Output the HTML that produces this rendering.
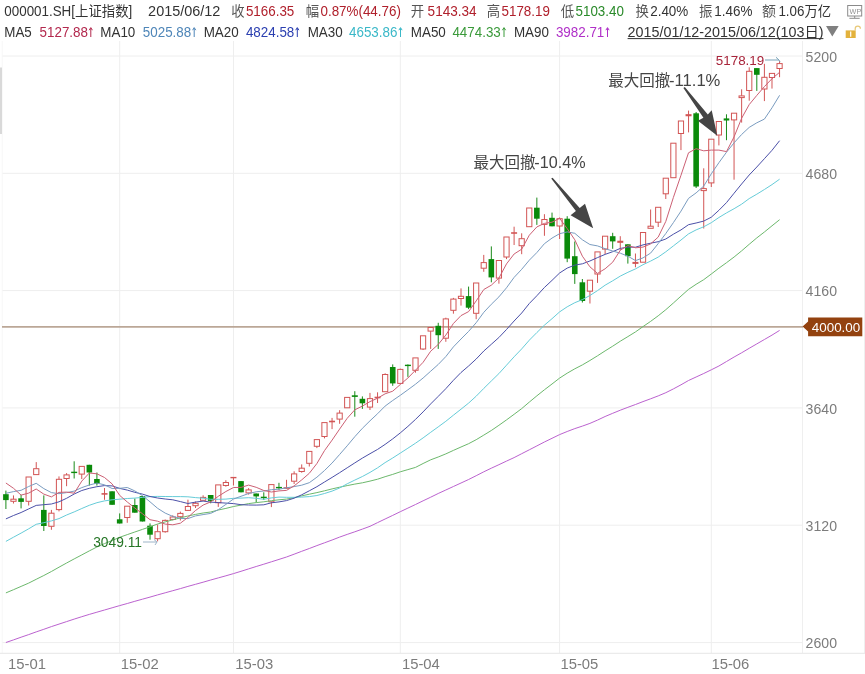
<!DOCTYPE html><html><head><meta charset="utf-8"><title>000001.SH</title><style>
html,body{margin:0;padding:0;background:#fff;}body{width:865px;height:674px;overflow:hidden;position:relative;}
svg{position:absolute;left:0;top:0;display:block;}
text{font-family:"Liberation Sans","Noto Sans CJK SC",sans-serif;}
</style></head><body>
<svg width="865" height="674" viewBox="0 0 865 674">
<g stroke="#eeeeee" stroke-width="1" fill="none">
<line x1="2" y1="56" x2="802" y2="56"/>
<line x1="2" y1="173.3" x2="802" y2="173.3"/>
<line x1="2" y1="290.6" x2="802" y2="290.6"/>
<line x1="2" y1="407.9" x2="802" y2="407.9"/>
<line x1="2" y1="525.2" x2="802" y2="525.2"/>
<line x1="2" y1="642.6" x2="802" y2="642.6"/>
<line x1="119.7" y1="41" x2="119.7" y2="653"/>
<line x1="233.5" y1="41" x2="233.5" y2="653"/>
<line x1="400.3" y1="41" x2="400.3" y2="653"/>
<line x1="559.6" y1="41" x2="559.6" y2="653"/>
<line x1="711.3" y1="41" x2="711.3" y2="653"/>
</g>
<g stroke="#e6e6e6" stroke-width="1" fill="none">
<line x1="2.2" y1="41" x2="2.2" y2="653" stroke="#f7f7f7"/>
<line x1="802.5" y1="41" x2="802.5" y2="653" stroke="#efefef"/>
<line x1="864.5" y1="0" x2="864.5" y2="653" stroke="#efefef"/>
<line x1="0" y1="653.3" x2="865" y2="653.3"/>
</g>
<rect x="0" y="67.5" width="2" height="66.5" fill="#d9d9d9"/>
<line x1="2" y1="326.8" x2="803" y2="326.8" stroke="#bba797" stroke-width="1.8"/>
<g stroke-width="1">
<line x1="5.90" y1="490.6" x2="5.90" y2="509.0" stroke="#1a8a1a"/>
<rect x="3.10" y="494.2" width="5.6" height="5.9" fill="#0a8a0a"/>
<line x1="13.48" y1="495.4" x2="13.48" y2="499.2" stroke="#d25555"/>
<line x1="13.48" y1="501.3" x2="13.48" y2="503.5" stroke="#d25555"/>
<rect x="10.88" y="499.2" width="5.2" height="2.1" fill="#fff" fill-opacity="0" stroke="#d25555"/>
<line x1="21.07" y1="494.8" x2="21.07" y2="508.4" stroke="#1a8a1a"/>
<rect x="18.27" y="498.3" width="5.6" height="3.6" fill="#0a8a0a"/>
<line x1="28.66" y1="501.3" x2="28.66" y2="505.5" stroke="#d25555"/>
<rect x="26.05" y="477.0" width="5.2" height="24.3" fill="#fff" fill-opacity="0" stroke="#d25555"/>
<line x1="36.24" y1="462.1" x2="36.24" y2="468.7" stroke="#d25555"/>
<rect x="33.64" y="468.7" width="5.2" height="5.9" fill="#fff" fill-opacity="0" stroke="#d25555"/>
<line x1="43.82" y1="495.4" x2="43.82" y2="531.0" stroke="#1a8a1a"/>
<rect x="41.02" y="509.9" width="5.6" height="16.1" fill="#0a8a0a"/>
<line x1="51.41" y1="509.9" x2="51.41" y2="513.2" stroke="#d25555"/>
<line x1="51.41" y1="526.3" x2="51.41" y2="529.8" stroke="#d25555"/>
<rect x="48.81" y="513.2" width="5.2" height="13.1" fill="#fff" fill-opacity="0" stroke="#d25555"/>
<line x1="58.99" y1="476.4" x2="58.99" y2="479.3" stroke="#d25555"/>
<line x1="58.99" y1="509.6" x2="58.99" y2="511.4" stroke="#d25555"/>
<rect x="56.39" y="479.3" width="5.2" height="30.3" fill="#fff" fill-opacity="0" stroke="#d25555"/>
<line x1="66.58" y1="473.1" x2="66.58" y2="474.9" stroke="#d25555"/>
<line x1="66.58" y1="478.5" x2="66.58" y2="486.2" stroke="#d25555"/>
<rect x="63.98" y="474.9" width="5.2" height="3.6" fill="#fff" fill-opacity="0" stroke="#d25555"/>
<line x1="74.17" y1="461.3" x2="74.17" y2="478.5" stroke="#1a8a1a"/>
<line x1="71.17" y1="472.4" x2="77.17" y2="472.4" stroke="#0a8a0a" stroke-width="1.4"/>
<line x1="81.75" y1="474.1" x2="81.75" y2="479.0" stroke="#d25555"/>
<rect x="79.15" y="466.4" width="5.2" height="7.7" fill="#fff" fill-opacity="0" stroke="#d25555"/>
<line x1="89.34" y1="464.8" x2="89.34" y2="485.6" stroke="#1a8a1a"/>
<rect x="86.54" y="464.8" width="5.6" height="7.7" fill="#0a8a0a"/>
<line x1="96.92" y1="472.5" x2="96.92" y2="485.6" stroke="#1a8a1a"/>
<rect x="94.12" y="479.0" width="5.6" height="4.8" fill="#0a8a0a"/>
<line x1="104.51" y1="488.0" x2="104.51" y2="499.8" stroke="#d25555"/>
<line x1="101.51" y1="493.9" x2="107.51" y2="493.9" stroke="#d25555" stroke-width="1.6"/>
<line x1="112.09" y1="491.3" x2="112.09" y2="504.8" stroke="#1a8a1a"/>
<rect x="109.29" y="491.3" width="5.6" height="13.5" fill="#0a8a0a"/>
<line x1="119.68" y1="513.4" x2="119.68" y2="523.5" stroke="#1a8a1a"/>
<rect x="116.88" y="519.3" width="5.6" height="4.2" fill="#0a8a0a"/>
<line x1="127.26" y1="517.5" x2="127.26" y2="522.8" stroke="#d25555"/>
<rect x="124.66" y="506.2" width="5.2" height="11.3" fill="#fff" fill-opacity="0" stroke="#d25555"/>
<line x1="134.84" y1="498.5" x2="134.84" y2="512.7" stroke="#1a8a1a"/>
<rect x="132.04" y="505.0" width="5.6" height="7.7" fill="#0a8a0a"/>
<line x1="142.43" y1="496.1" x2="142.43" y2="521.5" stroke="#1a8a1a"/>
<rect x="139.63" y="496.1" width="5.6" height="25.4" fill="#0a8a0a"/>
<line x1="150.02" y1="523.4" x2="150.02" y2="539.7" stroke="#1a8a1a"/>
<rect x="147.22" y="525.7" width="5.6" height="9.0" fill="#0a8a0a"/>
<line x1="157.60" y1="524.4" x2="157.60" y2="531.7" stroke="#d25555"/>
<line x1="157.60" y1="538.7" x2="157.60" y2="541.4" stroke="#d25555"/>
<rect x="155.00" y="531.7" width="5.2" height="7.0" fill="#fff" fill-opacity="0" stroke="#d25555"/>
<line x1="165.19" y1="519.5" x2="165.19" y2="520.4" stroke="#d25555"/>
<line x1="165.19" y1="531.7" x2="165.19" y2="532.7" stroke="#d25555"/>
<rect x="162.59" y="520.4" width="5.2" height="11.3" fill="#fff" fill-opacity="0" stroke="#d25555"/>
<line x1="172.77" y1="515.3" x2="172.77" y2="517.0" stroke="#d25555"/>
<line x1="172.77" y1="519.4" x2="172.77" y2="520.4" stroke="#d25555"/>
<rect x="170.17" y="517.0" width="5.2" height="2.4" fill="#fff" fill-opacity="0" stroke="#d25555"/>
<line x1="180.36" y1="511.6" x2="180.36" y2="513.4" stroke="#d25555"/>
<line x1="180.36" y1="516.7" x2="180.36" y2="520.5" stroke="#d25555"/>
<rect x="177.76" y="513.4" width="5.2" height="3.3" fill="#fff" fill-opacity="0" stroke="#d25555"/>
<line x1="187.94" y1="499.7" x2="187.94" y2="506.5" stroke="#d25555"/>
<line x1="187.94" y1="510.4" x2="187.94" y2="510.8" stroke="#d25555"/>
<rect x="185.34" y="506.5" width="5.2" height="3.9" fill="#fff" fill-opacity="0" stroke="#d25555"/>
<line x1="195.53" y1="501.5" x2="195.53" y2="503.3" stroke="#d25555"/>
<line x1="195.53" y1="505.7" x2="195.53" y2="508.0" stroke="#d25555"/>
<rect x="192.93" y="503.3" width="5.2" height="2.4" fill="#fff" fill-opacity="0" stroke="#d25555"/>
<line x1="203.11" y1="495.3" x2="203.11" y2="497.4" stroke="#d25555"/>
<rect x="200.51" y="497.4" width="5.2" height="2.9" fill="#fff" fill-opacity="0" stroke="#d25555"/>
<line x1="210.69" y1="495.0" x2="210.69" y2="503.3" stroke="#1a8a1a"/>
<rect x="207.89" y="495.0" width="5.6" height="5.9" fill="#0a8a0a"/>
<line x1="218.28" y1="502.7" x2="218.28" y2="506.9" stroke="#d25555"/>
<rect x="215.68" y="484.9" width="5.2" height="17.8" fill="#fff" fill-opacity="0" stroke="#d25555"/>
<line x1="225.87" y1="480.2" x2="225.87" y2="482.5" stroke="#d25555"/>
<line x1="225.87" y1="485.5" x2="225.87" y2="486.7" stroke="#d25555"/>
<rect x="223.27" y="482.5" width="5.2" height="3.0" fill="#fff" fill-opacity="0" stroke="#d25555"/>
<line x1="233.45" y1="477.2" x2="233.45" y2="485.5" stroke="#d25555"/>
<line x1="230.45" y1="477.6" x2="236.45" y2="477.6" stroke="#d25555" stroke-width="1.4"/>
<line x1="241.03" y1="481.0" x2="241.03" y2="492.3" stroke="#1a8a1a"/>
<rect x="238.23" y="481.1" width="5.6" height="11.2" fill="#0a8a0a"/>
<line x1="248.62" y1="488.1" x2="248.62" y2="489.9" stroke="#d25555"/>
<line x1="248.62" y1="492.9" x2="248.62" y2="494.6" stroke="#d25555"/>
<rect x="246.02" y="489.9" width="5.2" height="3.0" fill="#fff" fill-opacity="0" stroke="#d25555"/>
<line x1="256.20" y1="493.5" x2="256.20" y2="502.4" stroke="#1a8a1a"/>
<rect x="253.40" y="493.5" width="5.6" height="2.9" fill="#0a8a0a"/>
<line x1="263.79" y1="492.3" x2="263.79" y2="500.0" stroke="#1a8a1a"/>
<line x1="260.79" y1="497.4" x2="266.79" y2="497.4" stroke="#0a8a0a" stroke-width="1.4"/>
<line x1="271.38" y1="501.8" x2="271.38" y2="507.1" stroke="#d25555"/>
<rect x="268.77" y="484.6" width="5.2" height="17.2" fill="#fff" fill-opacity="0" stroke="#d25555"/>
<line x1="278.96" y1="482.8" x2="278.96" y2="489.9" stroke="#1a8a1a"/>
<line x1="275.96" y1="487.6" x2="281.96" y2="487.6" stroke="#0a8a0a" stroke-width="1.4"/>
<line x1="286.54" y1="479.8" x2="286.54" y2="488.5" stroke="#d25555"/>
<line x1="283.54" y1="488.0" x2="289.54" y2="488.0" stroke="#d25555" stroke-width="1.6"/>
<line x1="294.13" y1="471.3" x2="294.13" y2="473.9" stroke="#d25555"/>
<line x1="294.13" y1="481.2" x2="294.13" y2="484.0" stroke="#d25555"/>
<rect x="291.53" y="473.9" width="5.2" height="7.3" fill="#fff" fill-opacity="0" stroke="#d25555"/>
<line x1="301.71" y1="464.4" x2="301.71" y2="468.2" stroke="#d25555"/>
<line x1="301.71" y1="471.5" x2="301.71" y2="472.7" stroke="#d25555"/>
<rect x="299.11" y="468.2" width="5.2" height="3.3" fill="#fff" fill-opacity="0" stroke="#d25555"/>
<line x1="309.30" y1="463.3" x2="309.30" y2="466.5" stroke="#d25555"/>
<rect x="306.70" y="451.4" width="5.2" height="11.9" fill="#fff" fill-opacity="0" stroke="#d25555"/>
<line x1="316.88" y1="446.3" x2="316.88" y2="448.1" stroke="#d25555"/>
<rect x="314.28" y="439.6" width="5.2" height="6.7" fill="#fff" fill-opacity="0" stroke="#d25555"/>
<line x1="324.47" y1="436.5" x2="324.47" y2="438.4" stroke="#d25555"/>
<rect x="321.87" y="422.6" width="5.2" height="13.9" fill="#fff" fill-opacity="0" stroke="#d25555"/>
<line x1="332.05" y1="417.9" x2="332.05" y2="429.1" stroke="#d25555"/>
<line x1="329.05" y1="421.5" x2="335.05" y2="421.5" stroke="#d25555" stroke-width="1.6"/>
<line x1="339.64" y1="410.2" x2="339.64" y2="413.1" stroke="#d25555"/>
<line x1="339.64" y1="419.1" x2="339.64" y2="423.8" stroke="#d25555"/>
<rect x="337.04" y="413.1" width="5.2" height="6.0" fill="#fff" fill-opacity="0" stroke="#d25555"/>
<rect x="344.62" y="397.4" width="5.2" height="10.4" fill="#fff" fill-opacity="0" stroke="#d25555"/>
<line x1="354.81" y1="391.2" x2="354.81" y2="416.7" stroke="#1a8a1a"/>
<line x1="351.81" y1="396.1" x2="357.81" y2="396.1" stroke="#0a8a0a" stroke-width="1.6"/>
<line x1="362.39" y1="396.4" x2="362.39" y2="408.9" stroke="#1a8a1a"/>
<rect x="359.59" y="398.8" width="5.6" height="4.5" fill="#0a8a0a"/>
<line x1="369.98" y1="392.9" x2="369.98" y2="398.6" stroke="#d25555"/>
<line x1="369.98" y1="407.1" x2="369.98" y2="410.0" stroke="#d25555"/>
<rect x="367.38" y="398.6" width="5.2" height="8.5" fill="#fff" fill-opacity="0" stroke="#d25555"/>
<line x1="377.56" y1="392.3" x2="377.56" y2="403.0" stroke="#d25555"/>
<line x1="374.56" y1="397.5" x2="380.56" y2="397.5" stroke="#d25555" stroke-width="1.6"/>
<line x1="385.15" y1="373.3" x2="385.15" y2="374.5" stroke="#d25555"/>
<rect x="382.55" y="374.5" width="5.2" height="17.2" fill="#fff" fill-opacity="0" stroke="#d25555"/>
<line x1="392.73" y1="364.4" x2="392.73" y2="385.8" stroke="#1a8a1a"/>
<rect x="389.93" y="367.0" width="5.6" height="16.4" fill="#0a8a0a"/>
<line x1="400.32" y1="368.6" x2="400.32" y2="369.4" stroke="#d25555"/>
<rect x="397.72" y="369.4" width="5.2" height="14.0" fill="#fff" fill-opacity="0" stroke="#d25555"/>
<line x1="407.90" y1="364.4" x2="407.90" y2="376.9" stroke="#1a8a1a"/>
<line x1="404.90" y1="365.4" x2="410.90" y2="365.4" stroke="#0a8a0a" stroke-width="1.4"/>
<line x1="415.49" y1="370.3" x2="415.49" y2="372.7" stroke="#d25555"/>
<rect x="412.89" y="357.9" width="5.2" height="12.4" fill="#fff" fill-opacity="0" stroke="#d25555"/>
<line x1="423.07" y1="349.0" x2="423.07" y2="350.0" stroke="#d25555"/>
<rect x="420.47" y="335.8" width="5.2" height="13.2" fill="#fff" fill-opacity="0" stroke="#d25555"/>
<line x1="430.66" y1="331.1" x2="430.66" y2="348.9" stroke="#d25555"/>
<rect x="428.06" y="327.5" width="5.2" height="3.6" fill="#fff" fill-opacity="0" stroke="#d25555"/>
<line x1="438.24" y1="322.8" x2="438.24" y2="348.9" stroke="#1a8a1a"/>
<rect x="435.44" y="325.8" width="5.6" height="9.4" fill="#0a8a0a"/>
<line x1="445.83" y1="317.7" x2="445.83" y2="318.9" stroke="#d25555"/>
<line x1="445.83" y1="338.2" x2="445.83" y2="341.8" stroke="#d25555"/>
<rect x="443.23" y="318.9" width="5.2" height="19.3" fill="#fff" fill-opacity="0" stroke="#d25555"/>
<line x1="453.41" y1="297.9" x2="453.41" y2="299.1" stroke="#d25555"/>
<line x1="453.41" y1="310.3" x2="453.41" y2="313.7" stroke="#d25555"/>
<rect x="450.81" y="299.1" width="5.2" height="11.2" fill="#fff" fill-opacity="0" stroke="#d25555"/>
<line x1="461.00" y1="288.4" x2="461.00" y2="296.3" stroke="#d25555"/>
<line x1="461.00" y1="298.5" x2="461.00" y2="305.6" stroke="#d25555"/>
<rect x="458.40" y="296.3" width="5.2" height="2.2" fill="#fff" fill-opacity="0" stroke="#d25555"/>
<line x1="468.58" y1="286.6" x2="468.58" y2="309.1" stroke="#1a8a1a"/>
<rect x="465.78" y="296.1" width="5.6" height="11.6" fill="#0a8a0a"/>
<line x1="476.17" y1="313.3" x2="476.17" y2="319.2" stroke="#d25555"/>
<rect x="473.57" y="283.0" width="5.2" height="30.3" fill="#fff" fill-opacity="0" stroke="#d25555"/>
<line x1="483.75" y1="254.9" x2="483.75" y2="262.6" stroke="#d25555"/>
<line x1="483.75" y1="268.2" x2="483.75" y2="271.8" stroke="#d25555"/>
<rect x="481.15" y="262.6" width="5.2" height="5.6" fill="#fff" fill-opacity="0" stroke="#d25555"/>
<line x1="491.34" y1="246.4" x2="491.34" y2="282.3" stroke="#1a8a1a"/>
<rect x="488.54" y="259.1" width="5.6" height="18.3" fill="#0a8a0a"/>
<line x1="498.92" y1="278.1" x2="498.92" y2="283.7" stroke="#d25555"/>
<rect x="496.32" y="260.5" width="5.2" height="17.6" fill="#fff" fill-opacity="0" stroke="#d25555"/>
<line x1="506.51" y1="257.0" x2="506.51" y2="259.1" stroke="#d25555"/>
<rect x="503.91" y="237.0" width="5.2" height="20.0" fill="#fff" fill-opacity="0" stroke="#d25555"/>
<line x1="514.10" y1="226.7" x2="514.10" y2="245.0" stroke="#d25555"/>
<line x1="511.10" y1="233.0" x2="517.10" y2="233.0" stroke="#d25555" stroke-width="1.6"/>
<line x1="521.68" y1="233.3" x2="521.68" y2="238.7" stroke="#d25555"/>
<line x1="521.68" y1="245.7" x2="521.68" y2="254.2" stroke="#d25555"/>
<rect x="519.08" y="238.7" width="5.2" height="7.0" fill="#fff" fill-opacity="0" stroke="#d25555"/>
<line x1="529.26" y1="226.7" x2="529.26" y2="227.0" stroke="#d25555"/>
<rect x="526.66" y="208.0" width="5.2" height="18.7" fill="#fff" fill-opacity="0" stroke="#d25555"/>
<line x1="536.85" y1="197.6" x2="536.85" y2="224.9" stroke="#1a8a1a"/>
<rect x="534.05" y="207.7" width="5.6" height="11.0" fill="#0a8a0a"/>
<line x1="544.43" y1="214.2" x2="544.43" y2="219.5" stroke="#d25555"/>
<line x1="544.43" y1="224.4" x2="544.43" y2="235.8" stroke="#d25555"/>
<rect x="541.83" y="219.5" width="5.2" height="4.9" fill="#fff" fill-opacity="0" stroke="#d25555"/>
<line x1="552.02" y1="212.6" x2="552.02" y2="226.3" stroke="#1a8a1a"/>
<rect x="549.22" y="217.8" width="5.6" height="8.5" fill="#0a8a0a"/>
<line x1="559.61" y1="217.5" x2="559.61" y2="218.7" stroke="#d25555"/>
<line x1="559.61" y1="226.0" x2="559.61" y2="239.0" stroke="#d25555"/>
<rect x="557.00" y="218.7" width="5.2" height="7.3" fill="#fff" fill-opacity="0" stroke="#d25555"/>
<line x1="567.19" y1="216.2" x2="567.19" y2="262.2" stroke="#1a8a1a"/>
<rect x="564.39" y="218.7" width="5.6" height="39.9" fill="#0a8a0a"/>
<line x1="574.77" y1="241.5" x2="574.77" y2="283.9" stroke="#1a8a1a"/>
<rect x="571.98" y="256.2" width="5.6" height="17.9" fill="#0a8a0a"/>
<line x1="582.36" y1="279.0" x2="582.36" y2="302.5" stroke="#1a8a1a"/>
<rect x="579.56" y="282.3" width="5.6" height="18.7" fill="#0a8a0a"/>
<line x1="589.94" y1="291.2" x2="589.94" y2="303.5" stroke="#d25555"/>
<rect x="587.34" y="280.2" width="5.2" height="11.0" fill="#fff" fill-opacity="0" stroke="#d25555"/>
<line x1="597.53" y1="274.0" x2="597.53" y2="282.9" stroke="#d25555"/>
<rect x="594.93" y="251.9" width="5.2" height="22.1" fill="#fff" fill-opacity="0" stroke="#d25555"/>
<line x1="605.12" y1="249.1" x2="605.12" y2="254.0" stroke="#d25555"/>
<rect x="602.51" y="236.2" width="5.2" height="12.9" fill="#fff" fill-opacity="0" stroke="#d25555"/>
<line x1="612.70" y1="232.8" x2="612.70" y2="248.8" stroke="#1a8a1a"/>
<rect x="609.90" y="236.2" width="5.6" height="5.2" fill="#0a8a0a"/>
<line x1="620.28" y1="236.2" x2="620.28" y2="250.3" stroke="#d25555"/>
<line x1="617.28" y1="241.8" x2="623.28" y2="241.8" stroke="#d25555" stroke-width="2.1"/>
<line x1="627.87" y1="244.3" x2="627.87" y2="263.6" stroke="#1a8a1a"/>
<rect x="625.07" y="244.3" width="5.6" height="11.9" fill="#0a8a0a"/>
<line x1="635.45" y1="253.5" x2="635.45" y2="267.3" stroke="#d25555"/>
<line x1="632.45" y1="262.9" x2="638.45" y2="262.9" stroke="#d25555" stroke-width="2.0"/>
<rect x="640.44" y="232.5" width="5.2" height="29.7" fill="#fff" fill-opacity="0" stroke="#d25555"/>
<line x1="650.62" y1="209.5" x2="650.62" y2="226.2" stroke="#d25555"/>
<rect x="648.02" y="226.2" width="5.2" height="2.1" fill="#fff" fill-opacity="0" stroke="#d25555"/>
<line x1="658.21" y1="222.2" x2="658.21" y2="227.0" stroke="#d25555"/>
<rect x="655.61" y="207.3" width="5.2" height="14.9" fill="#fff" fill-opacity="0" stroke="#d25555"/>
<line x1="665.79" y1="193.8" x2="665.79" y2="199.0" stroke="#d25555"/>
<rect x="663.19" y="178.2" width="5.2" height="15.6" fill="#fff" fill-opacity="0" stroke="#d25555"/>
<rect x="670.78" y="143.2" width="5.2" height="34.5" fill="#fff" fill-opacity="0" stroke="#d25555"/>
<line x1="680.96" y1="133.5" x2="680.96" y2="150.1" stroke="#d25555"/>
<rect x="678.36" y="121.0" width="5.2" height="12.5" fill="#fff" fill-opacity="0" stroke="#d25555"/>
<line x1="688.55" y1="110.6" x2="688.55" y2="132.4" stroke="#d25555"/>
<line x1="685.55" y1="115.2" x2="691.55" y2="115.2" stroke="#d25555" stroke-width="2.1"/>
<line x1="696.13" y1="112.0" x2="696.13" y2="188.0" stroke="#1a8a1a"/>
<rect x="693.34" y="113.3" width="5.6" height="73.2" fill="#0a8a0a"/>
<line x1="703.72" y1="168.3" x2="703.72" y2="188.6" stroke="#d25555"/>
<line x1="703.72" y1="190.6" x2="703.72" y2="228.5" stroke="#d25555"/>
<rect x="701.12" y="188.6" width="5.2" height="2.0" fill="#fff" fill-opacity="0" stroke="#d25555"/>
<line x1="711.30" y1="182.9" x2="711.30" y2="187.0" stroke="#d25555"/>
<rect x="708.70" y="139.2" width="5.2" height="43.7" fill="#fff" fill-opacity="0" stroke="#d25555"/>
<line x1="718.89" y1="135.0" x2="718.89" y2="145.4" stroke="#d25555"/>
<rect x="716.29" y="121.5" width="5.2" height="13.5" fill="#fff" fill-opacity="0" stroke="#d25555"/>
<line x1="726.48" y1="114.3" x2="726.48" y2="140.2" stroke="#1a8a1a"/>
<rect x="723.68" y="118.4" width="5.6" height="2.1" fill="#0a8a0a"/>
<line x1="734.06" y1="119.9" x2="734.06" y2="179.7" stroke="#d25555"/>
<rect x="731.46" y="113.2" width="5.2" height="6.7" fill="#fff" fill-opacity="0" stroke="#d25555"/>
<line x1="741.64" y1="89.3" x2="741.64" y2="95.9" stroke="#d25555"/>
<line x1="741.64" y1="97.6" x2="741.64" y2="122.6" stroke="#d25555"/>
<rect x="739.04" y="95.9" width="5.2" height="1.7" fill="#fff" fill-opacity="0" stroke="#d25555"/>
<line x1="749.23" y1="67.3" x2="749.23" y2="71.3" stroke="#d25555"/>
<line x1="749.23" y1="90.5" x2="749.23" y2="100.7" stroke="#d25555"/>
<rect x="746.63" y="71.3" width="5.2" height="19.2" fill="#fff" fill-opacity="0" stroke="#d25555"/>
<line x1="756.81" y1="68.1" x2="756.81" y2="90.9" stroke="#1a8a1a"/>
<rect x="754.01" y="68.1" width="5.6" height="6.7" fill="#0a8a0a"/>
<line x1="764.40" y1="63.8" x2="764.40" y2="77.3" stroke="#d25555"/>
<line x1="764.40" y1="89.0" x2="764.40" y2="101.1" stroke="#d25555"/>
<rect x="761.80" y="77.3" width="5.2" height="11.7" fill="#fff" fill-opacity="0" stroke="#d25555"/>
<line x1="771.99" y1="77.5" x2="771.99" y2="88.6" stroke="#d25555"/>
<rect x="769.38" y="73.4" width="5.2" height="4.1" fill="#fff" fill-opacity="0" stroke="#d25555"/>
<line x1="779.57" y1="61.0" x2="779.57" y2="63.6" stroke="#d25555"/>
<line x1="779.57" y1="68.5" x2="779.57" y2="77.2" stroke="#d25555"/>
<rect x="776.97" y="63.6" width="5.2" height="4.9" fill="#fff" fill-opacity="0" stroke="#d25555"/>
</g>
<polyline points="5.9,642.5 13.5,639.9 21.1,637.2 28.7,634.6 36.2,631.9 43.8,629.3 51.4,626.6 59.0,624.1 66.6,621.6 74.2,619.1 81.8,616.7 89.3,614.4 96.9,612.2 104.5,610.0 112.1,607.8 119.7,605.6 127.3,603.5 134.8,601.3 142.4,599.2 150.0,597.1 157.6,594.9 165.2,592.8 172.8,590.7 180.4,588.6 187.9,586.4 195.5,584.3 203.1,582.2 210.7,580.0 218.3,577.9 225.9,575.8 233.5,573.6 241.0,571.3 248.6,568.9 256.2,566.5 263.8,564.2 271.4,561.8 279.0,559.4 286.5,557.0 294.1,554.2 301.7,551.3 309.3,548.5 316.9,545.6 324.5,542.8 332.1,540.0 339.6,537.1 347.2,534.4 354.8,531.8 362.4,529.1 370.0,526.3 377.6,522.6 385.1,519.0 392.7,515.4 400.3,511.7 407.9,508.1 415.5,504.5 423.1,500.8 430.7,497.2 438.2,493.5 445.8,490.0 453.4,486.5 461.0,483.0 468.6,479.5 476.2,475.7 483.8,471.8 491.3,468.2 498.9,464.7 506.5,461.1 514.1,457.6 521.7,453.7 529.3,449.8 536.9,445.9 544.4,442.0 552.0,438.3 559.6,434.6 567.2,431.5 574.8,428.6 582.4,426.1 589.9,423.4 597.5,420.1 605.1,416.5 612.7,413.3 620.3,410.2 627.9,407.3 635.5,404.5 643.0,401.6 650.6,398.8 658.2,395.9 665.8,392.7 673.4,388.9 681.0,384.8 688.5,380.5 696.1,377.0 703.7,373.5 711.3,369.8 718.9,366.0 726.5,361.5 734.1,357.0 741.6,352.8 749.2,348.3 756.8,343.9 764.4,339.5 772.0,335.1 779.6,330.4" fill="none" stroke="#bb62cf" stroke-width="1" stroke-linejoin="round"/>
<polyline points="5.9,592.9 13.5,589.7 21.1,586.4 28.7,583.1 36.2,579.3 43.8,575.5 51.4,571.5 59.0,567.2 66.6,563.0 74.2,558.9 81.8,554.9 89.3,550.9 96.9,547.0 104.5,543.6 112.1,540.5 119.7,537.3 127.3,534.6 134.8,532.0 142.4,529.4 150.0,526.8 157.6,524.0 165.2,521.9 172.8,519.8 180.4,517.9 187.9,516.0 195.5,514.4 203.1,513.0 210.7,512.0 218.3,510.0 225.9,508.4 233.5,506.5 241.0,505.1 248.6,503.6 256.2,502.6 263.8,501.8 271.4,500.7 279.0,499.8 286.5,499.1 294.1,497.7 301.7,495.9 309.3,494.2 316.9,492.6 324.5,490.8 332.1,488.9 339.6,487.2 347.2,485.6 354.8,484.1 362.4,482.8 370.0,481.1 377.6,479.2 385.1,476.7 392.7,474.4 400.3,471.8 407.9,469.6 415.5,467.4 423.1,463.5 430.7,459.8 438.2,457.0 445.8,453.9 453.4,450.4 461.0,447.0 468.6,443.7 476.2,439.7 483.8,435.1 491.3,430.5 498.9,425.3 506.5,419.9 514.1,414.3 521.7,408.6 529.3,402.1 536.9,395.8 544.4,389.8 552.0,384.0 559.6,378.1 567.2,373.2 574.8,368.8 582.4,364.9 589.9,360.5 597.5,355.8 605.1,350.9 612.7,346.2 620.3,341.2 627.9,336.6 635.5,331.9 643.0,326.6 650.6,321.4 658.2,315.8 665.8,309.7 673.4,303.0 681.0,296.1 688.5,289.4 696.1,284.3 703.7,279.7 711.3,274.0 718.9,268.2 726.5,262.7 734.1,257.0 741.6,250.9 749.2,244.3 756.8,237.9 764.4,232.0 772.0,225.8 779.6,219.7" fill="none" stroke="#6cb86c" stroke-width="1" stroke-linejoin="round"/>
<polyline points="5.9,541.4 13.5,537.2 21.1,533.1 28.7,528.8 36.2,524.3 43.8,522.7 51.4,520.9 59.0,518.6 66.6,515.0 74.2,511.9 81.8,508.5 89.3,505.3 96.9,502.7 104.5,500.9 112.1,499.8 119.7,499.2 127.3,498.5 134.8,498.1 142.4,497.4 150.0,496.6 157.6,496.4 165.2,496.5 172.8,496.6 180.4,496.6 187.9,496.8 195.5,497.6 203.1,498.2 210.7,499.3 218.3,499.3 225.9,499.1 233.5,498.3 241.0,498.1 248.6,497.7 256.2,498.3 263.8,499.3 271.4,497.9 279.0,497.1 286.5,497.3 294.1,497.3 301.7,497.1 309.3,496.6 316.9,495.5 324.5,493.5 332.1,491.1 339.6,488.0 347.2,483.8 354.8,480.1 362.4,476.5 370.0,472.4 377.6,467.8 385.1,462.6 392.7,458.0 400.3,453.1 407.9,448.2 415.5,443.2 423.1,437.9 430.7,432.3 438.2,426.9 445.8,421.3 453.4,415.2 461.0,409.2 468.6,403.1 476.2,396.2 483.8,388.4 491.3,381.0 498.9,373.6 506.5,365.2 514.1,356.8 521.7,348.9 529.3,340.2 536.9,332.5 544.4,325.2 552.0,318.7 559.6,311.9 567.2,306.8 574.8,302.7 582.4,299.6 589.9,295.5 597.5,290.6 605.1,285.2 612.7,280.8 620.3,276.1 627.9,272.3 635.5,268.9 643.0,264.7 650.6,261.1 658.2,257.1 665.8,251.8 673.4,245.9 681.0,240.0 688.5,233.9 696.1,229.9 703.7,226.8 711.3,222.7 718.9,217.5 726.5,212.9 734.1,208.7 741.6,204.2 749.2,198.6 756.8,194.2 764.4,189.5 772.0,184.6 779.6,179.2" fill="none" stroke="#66ccd8" stroke-width="1" stroke-linejoin="round"/>
<polyline points="5.9,518.9 13.5,515.5 21.1,512.5 28.7,508.9 36.2,505.4 43.8,504.7 51.4,504.0 59.0,501.8 66.6,498.3 74.2,494.0 81.8,490.5 89.3,488.3 96.9,486.7 104.5,485.6 112.1,485.9 119.7,488.4 127.3,490.1 134.8,492.3 142.4,494.1 150.0,496.5 157.6,498.0 165.2,499.0 172.8,499.8 180.4,501.6 187.9,503.5 195.5,502.1 203.1,501.1 210.7,502.1 218.3,502.6 225.9,503.1 233.5,503.6 241.0,504.7 248.6,505.0 256.2,505.1 263.8,504.8 271.4,502.8 279.0,501.9 286.5,500.6 294.1,498.2 301.7,494.8 309.3,490.8 316.9,486.7 324.5,482.0 332.1,477.4 339.6,472.7 347.2,467.8 354.8,462.9 362.4,458.1 370.0,453.7 377.6,449.4 385.1,444.4 392.7,438.9 400.3,432.9 407.9,426.4 415.5,419.4 423.1,411.9 430.7,403.9 438.2,396.4 445.8,388.7 453.4,380.3 461.0,372.5 468.6,366.0 476.2,359.0 483.8,351.0 491.3,344.3 498.9,337.5 506.5,329.5 514.1,321.0 521.7,313.0 529.3,303.5 536.9,295.7 544.4,287.5 552.0,280.4 559.6,273.0 567.2,268.1 574.8,265.1 582.4,263.8 589.9,261.0 597.5,257.6 605.1,254.4 612.7,251.7 620.3,248.4 627.9,247.1 635.5,247.2 643.0,244.9 650.6,243.2 658.2,241.7 665.8,239.0 673.4,234.2 681.0,229.9 688.5,224.7 696.1,223.0 703.7,221.1 711.3,217.2 718.9,210.3 726.5,202.6 734.1,193.2 741.6,184.0 749.2,175.0 756.8,167.0 764.4,158.7 772.0,150.3 779.6,140.7" fill="none" stroke="#4b50a8" stroke-width="1" stroke-linejoin="round"/>
<polyline points="5.9,493.3 13.5,491.6 21.1,490.3 28.7,486.5 36.2,483.3 43.8,488.6 51.4,492.6 59.0,493.7 66.6,492.6 74.2,491.1 81.8,487.6 89.3,485.0 96.9,483.1 104.5,484.8 112.1,488.5 119.7,488.3 127.3,487.5 134.8,490.9 142.4,495.6 150.0,501.8 157.6,508.3 165.2,513.1 172.8,516.4 180.4,518.4 187.9,518.6 195.5,515.9 203.1,514.6 210.7,513.4 218.3,509.7 225.9,504.4 233.5,499.0 241.0,496.3 248.6,493.5 256.2,491.8 263.8,491.0 271.4,489.7 279.0,489.2 286.5,487.8 294.1,486.6 301.7,485.2 309.3,482.7 316.9,477.2 324.5,470.5 332.1,463.0 339.6,454.5 347.2,445.8 354.8,436.7 362.4,428.3 370.0,420.8 377.6,413.7 385.1,406.1 392.7,400.5 400.3,395.3 407.9,389.8 415.5,384.2 423.1,378.0 430.7,371.2 438.2,364.5 445.8,356.6 453.4,346.9 461.0,339.0 468.6,331.4 476.2,322.7 483.8,312.3 491.3,304.3 498.9,296.9 506.5,287.8 514.1,277.4 521.7,269.3 529.3,260.2 536.9,252.5 544.4,243.7 552.0,238.1 559.6,233.7 567.2,231.9 574.8,233.3 582.4,239.8 589.9,244.5 597.5,245.9 605.1,248.7 612.7,251.0 620.3,253.2 627.9,256.2 635.5,260.6 643.0,257.9 650.6,253.1 658.2,243.6 665.8,233.5 673.4,222.6 681.0,211.1 688.5,198.4 696.1,192.9 703.7,186.1 711.3,173.8 718.9,162.7 726.5,152.2 734.1,142.8 741.6,134.5 749.2,127.4 756.8,122.8 764.4,119.1 772.0,107.8 779.6,95.3" fill="none" stroke="#7a9cc0" stroke-width="1" stroke-linejoin="round"/>
<polyline points="5.9,483.0 13.5,488.3 21.1,495.1 28.7,493.1 36.2,489.0 43.8,494.1 51.4,496.9 59.0,492.4 66.6,492.1 74.2,493.2 81.8,481.1 89.3,473.0 96.9,473.8 104.5,477.5 112.1,483.9 119.7,495.4 127.3,502.0 134.8,508.0 142.4,513.7 150.0,519.7 157.6,521.2 165.2,524.1 172.8,524.8 180.4,523.2 187.9,517.4 195.5,510.5 203.1,505.1 210.7,501.9 218.3,496.3 225.9,491.5 233.5,487.5 241.0,487.4 248.6,485.1 256.2,487.3 263.8,490.5 271.4,492.0 279.0,490.9 286.5,490.4 294.1,485.9 301.7,479.9 309.3,473.3 316.9,463.5 324.5,450.6 332.1,440.1 339.6,429.1 347.2,418.3 354.8,409.8 362.4,406.1 370.0,401.6 377.6,398.2 385.1,393.8 392.7,391.2 400.3,384.5 407.9,378.0 415.5,370.2 423.1,362.3 430.7,351.2 438.2,344.5 445.8,335.1 453.4,323.5 461.0,315.6 468.6,311.6 476.2,300.9 483.8,289.5 491.3,285.2 498.9,278.1 506.5,263.9 514.1,254.0 521.7,249.2 529.3,235.2 536.9,226.9 544.4,223.4 552.0,222.2 559.6,218.3 567.2,228.6 574.8,239.8 582.4,256.2 589.9,266.8 597.5,273.4 605.1,268.8 612.7,262.2 620.3,250.2 627.9,245.6 635.5,247.8 643.0,247.1 650.6,243.9 658.2,237.1 665.8,221.4 673.4,197.4 681.0,175.2 688.5,152.8 696.1,148.7 703.7,150.8 711.3,150.1 718.9,150.1 726.5,151.6 734.1,136.8 741.6,118.3 749.2,104.6 756.8,95.4 764.4,86.6 772.0,78.7 779.6,72.3" fill="none" stroke="#cc6074" stroke-width="1" stroke-linejoin="round"/>
<text x="93.2" y="546.9" font-size="14" fill="#257525" textLength="48.8" lengthAdjust="spacingAndGlyphs">3049.11</text>
<polyline points="143,542 156.5,542" fill="none" stroke="#9db4c8" stroke-width="1"/>
<polyline points="154,539.5 157,542 155,545" fill="none" stroke="#9db4c8" stroke-width="1"/>
<text x="715.8" y="65" font-size="13.4" fill="#a8243a">5178.19</text>
<polyline points="765,60 779,60" fill="none" stroke="#7aa3b8" stroke-width="1"/>
<polyline points="776,57.3 779,60 780,62" fill="none" stroke="#7aa3b8" stroke-width="1"/>
<text x="473.5" y="168" font-size="15.5" fill="#444">最大回撤<tspan x="534.3" y="168.1" font-size="16.6" textLength="51.2" lengthAdjust="spacingAndGlyphs">-10.4%</tspan></text>
<text x="608.2" y="85.6" font-size="15.5" fill="#444">最大回撤<tspan x="669" y="85.9" font-size="16.6" textLength="51.4" lengthAdjust="spacingAndGlyphs">-11.1%</tspan></text>
<polygon points="551.2,178.6 552.6,177.8 579.7,207.9 585,203.8 593.2,228.3 570.6,215.3 575.9,211.1" fill="#454545"/>
<polygon points="683.4,87.9 684.8,87.1 707.8,114.4 711.7,110.2 717.3,135.7 697.9,120.7 703.4,117.8" fill="#454545"/>
<text x="805.6" y="61.7" font-size="13.8" fill="#7c7c7c" textLength="31.4" lengthAdjust="spacingAndGlyphs">5200</text>
<text x="805.6" y="179.0" font-size="13.8" fill="#7c7c7c" textLength="31.4" lengthAdjust="spacingAndGlyphs">4680</text>
<text x="805.6" y="296.3" font-size="13.8" fill="#7c7c7c" textLength="31.4" lengthAdjust="spacingAndGlyphs">4160</text>
<text x="805.6" y="413.6" font-size="13.8" fill="#7c7c7c" textLength="31.4" lengthAdjust="spacingAndGlyphs">3640</text>
<text x="805.6" y="530.9" font-size="13.8" fill="#7c7c7c" textLength="31.4" lengthAdjust="spacingAndGlyphs">3120</text>
<text x="805.6" y="648.3" font-size="13.8" fill="#7c7c7c" textLength="31.4" lengthAdjust="spacingAndGlyphs">2600</text>
<text x="8.0" y="669" font-size="13.8" fill="#7c7c7c" textLength="38" lengthAdjust="spacingAndGlyphs">15-01</text>
<text x="120.7" y="669" font-size="13.8" fill="#7c7c7c" textLength="38" lengthAdjust="spacingAndGlyphs">15-02</text>
<text x="235.2" y="669" font-size="13.8" fill="#7c7c7c" textLength="38" lengthAdjust="spacingAndGlyphs">15-03</text>
<text x="401.9" y="669" font-size="13.8" fill="#7c7c7c" textLength="38" lengthAdjust="spacingAndGlyphs">15-04</text>
<text x="560.4" y="669" font-size="13.8" fill="#7c7c7c" textLength="38" lengthAdjust="spacingAndGlyphs">15-05</text>
<text x="711.4" y="669" font-size="13.8" fill="#7c7c7c" textLength="38" lengthAdjust="spacingAndGlyphs">15-06</text>
<polygon points="802.6,326.4 808.1,321.4 808.1,317.4 862.3,317.4 862.3,336.2 808.1,336.2 808.1,331.4" fill="#93420f"/>
<text x="811.8" y="332.4" font-size="13.4" fill="#fff">4000.00</text>
<text x="4.3" y="15.6" font-size="14.2" fill="#333" textLength="128.0" lengthAdjust="spacingAndGlyphs">000001.SH[上证指数]</text>
<text x="148.1" y="15.6" font-size="14.2" fill="#333" textLength="72.3" lengthAdjust="spacingAndGlyphs">2015/06/12</text>
<text x="231.2" y="15.6" font-size="14.2" fill="#555" textLength="13.4" lengthAdjust="spacingAndGlyphs">收</text>
<text x="245.9" y="15.6" font-size="14.2" fill="#b0202c" textLength="48.4" lengthAdjust="spacingAndGlyphs">5166.35</text>
<text x="305.7" y="15.6" font-size="14.2" fill="#555" textLength="13.4" lengthAdjust="spacingAndGlyphs">幅</text>
<text x="320.5" y="15.6" font-size="14.2" fill="#b0202c" textLength="80.4" lengthAdjust="spacingAndGlyphs">0.87%(44.76)</text>
<text x="410.8" y="15.6" font-size="14.2" fill="#555" textLength="13.4" lengthAdjust="spacingAndGlyphs">开</text>
<text x="427.6" y="15.6" font-size="14.2" fill="#b0202c" textLength="49.0" lengthAdjust="spacingAndGlyphs">5143.34</text>
<text x="486.8" y="15.6" font-size="14.2" fill="#555" textLength="13.4" lengthAdjust="spacingAndGlyphs">高</text>
<text x="501.5" y="15.6" font-size="14.2" fill="#b0202c" textLength="48.4" lengthAdjust="spacingAndGlyphs">5178.19</text>
<text x="560.8" y="15.6" font-size="14.2" fill="#555" textLength="13.4" lengthAdjust="spacingAndGlyphs">低</text>
<text x="575.5" y="15.6" font-size="14.2" fill="#2a8a2a" textLength="48.4" lengthAdjust="spacingAndGlyphs">5103.40</text>
<text x="635.5" y="15.6" font-size="14.2" fill="#555" textLength="13.4" lengthAdjust="spacingAndGlyphs">换</text>
<text x="650.2" y="15.6" font-size="14.2" fill="#333" textLength="38.1" lengthAdjust="spacingAndGlyphs">2.40%</text>
<text x="699.1" y="15.6" font-size="14.2" fill="#555" textLength="13.4" lengthAdjust="spacingAndGlyphs">振</text>
<text x="714.3" y="15.6" font-size="14.2" fill="#333" textLength="38.1" lengthAdjust="spacingAndGlyphs">1.46%</text>
<text x="761.9" y="15.6" font-size="14.2" fill="#555" textLength="14.0" lengthAdjust="spacingAndGlyphs">额</text>
<text x="778.4" y="15.6" font-size="14.2" fill="#333" textLength="52.8" lengthAdjust="spacingAndGlyphs">1.06万亿</text>
<text x="4.3" y="36.7" font-size="14.2" fill="#333" textLength="27.5" lengthAdjust="spacingAndGlyphs">MA5</text>
<text x="39.6" y="36.7" font-size="14.2" fill="#b3294e" textLength="48.4" lengthAdjust="spacingAndGlyphs">5127.88</text>
<text x="100.3" y="36.7" font-size="14.2" fill="#333" textLength="35.0" lengthAdjust="spacingAndGlyphs">MA10</text>
<text x="142.8" y="36.7" font-size="14.2" fill="#4f86b8" textLength="48.4" lengthAdjust="spacingAndGlyphs">5025.88</text>
<text x="203.7" y="36.7" font-size="14.2" fill="#333" textLength="35.0" lengthAdjust="spacingAndGlyphs">MA20</text>
<text x="245.9" y="36.7" font-size="14.2" fill="#2b3fb0" textLength="48.4" lengthAdjust="spacingAndGlyphs">4824.58</text>
<text x="307.7" y="36.7" font-size="14.2" fill="#333" textLength="35.0" lengthAdjust="spacingAndGlyphs">MA30</text>
<text x="349" y="36.7" font-size="14.2" fill="#3ab8c8" textLength="48.4" lengthAdjust="spacingAndGlyphs">4653.86</text>
<text x="410.8" y="36.7" font-size="14.2" fill="#333" textLength="35.0" lengthAdjust="spacingAndGlyphs">MA50</text>
<text x="452.4" y="36.7" font-size="14.2" fill="#3a9a3a" textLength="48.4" lengthAdjust="spacingAndGlyphs">4474.33</text>
<text x="513.9" y="36.7" font-size="14.2" fill="#333" textLength="35.0" lengthAdjust="spacingAndGlyphs">MA90</text>
<text x="555.9" y="36.7" font-size="14.2" fill="#b030c8" textLength="48.4" lengthAdjust="spacingAndGlyphs">3982.71</text>
<text x="627.6" y="36.7" font-size="14.2" fill="#333" textLength="196" lengthAdjust="spacingAndGlyphs">2015/01/12-2015/06/12(103日)</text>
<g stroke="#b3294e" stroke-width="1" fill="none"><line x1="90.8" y1="28.2" x2="90.8" y2="37"/><polyline points="89.2,30.2 90.8,27.6 92.39999999999999,30.2"/></g>
<g stroke="#4f86b8" stroke-width="1" fill="none"><line x1="194.2" y1="28.2" x2="194.2" y2="37"/><polyline points="192.6,30.2 194.2,27.6 195.79999999999998,30.2"/></g>
<g stroke="#2b3fb0" stroke-width="1" fill="none"><line x1="297.3" y1="28.2" x2="297.3" y2="37"/><polyline points="295.7,30.2 297.3,27.6 298.90000000000003,30.2"/></g>
<g stroke="#3ab8c8" stroke-width="1" fill="none"><line x1="400.5" y1="28.2" x2="400.5" y2="37"/><polyline points="398.9,30.2 400.5,27.6 402.1,30.2"/></g>
<g stroke="#3a9a3a" stroke-width="1" fill="none"><line x1="504" y1="28.2" x2="504" y2="37"/><polyline points="502.4,30.2 504,27.6 505.6,30.2"/></g>
<g stroke="#b030c8" stroke-width="1" fill="none"><line x1="607.5" y1="28.2" x2="607.5" y2="37"/><polyline points="605.9,30.2 607.5,27.6 609.1,30.2"/></g>
<line x1="627.6" y1="38.6" x2="823.4" y2="38.6" stroke="#333" stroke-width="1"/>
<polygon points="826,26 838.7,26 832.3,36.4" fill="#808080"/>
<rect x="845.7" y="30.4" width="10" height="7.6" fill="#e3b23c"/>
<line x1="850.7" y1="31.5" x2="850.7" y2="36.8" stroke="#fff" stroke-width="1.2"/>
<path d="M855.2,30.4 V28.8 A2.6,2.6 0 0 1 860.4,28.8" fill="none" stroke="#e8c878" stroke-width="1.2"/>
<rect x="847.7" y="5.5" width="14" height="10.5" fill="none" stroke="#8a8a8a" stroke-width="1"/>
<text x="849.6" y="13.5" font-size="7.2" fill="#909090">WP</text>
<line x1="854.7" y1="16" x2="854.7" y2="18" stroke="#8a8a8a"/>
<line x1="849.4" y1="18.3" x2="859.7" y2="18.3" stroke="#8a8a8a"/>
</svg></body></html>
